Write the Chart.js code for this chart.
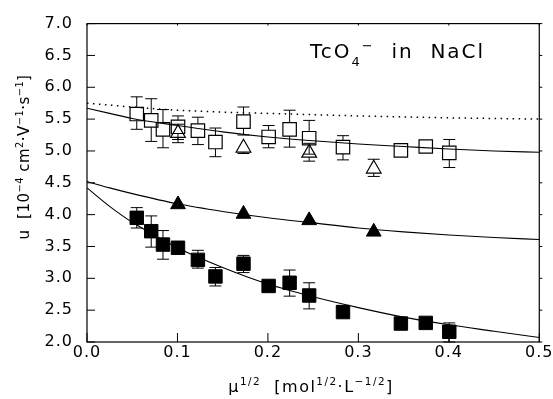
<!DOCTYPE html>
<html>
<head>
<meta charset="utf-8">
<script src="https://cdn.jsdelivr.net/npm/chart.js@4.4.0/dist/chart.umd.min.js"></script>
<style>
  html, body { margin: 0; padding: 0; background: #fff; }
</style>
</head>
<body>
<canvas id="myChart" width="553" height="399"></canvas>
<script>
// mu^1/2 of the measured points (squares)
var sqX = [0.055, 0.071, 0.084, 0.1006, 0.1226, 0.142, 0.173, 0.2008, 0.224, 0.2456, 0.283, 0.347, 0.3745, 0.4005];
// open squares
var openSqY = [5.58, 5.48, 5.34, 5.38, 5.32, 5.14, 5.46, 5.22, 5.34, 5.20, 5.06, 5.01, 5.07, 4.97];
var openSqLo = [5.34, 5.15, 5.05, 5.13, 5.10, 4.91, 5.25, 5.05, 5.06, 4.95, 4.86, null, null, 4.74];
var openSqHi = [5.85, 5.82, 5.65, 5.55, 5.53, 5.36, 5.69, 5.40, 5.64, 5.48, 5.24, null, null, 5.18];
// filled squares
var fillSqY = [3.95, 3.74, 3.53, 3.48, 3.29, 3.03, 3.23, 2.88, 2.93, 2.73, 2.47, 2.29, 2.30, 2.16];
var fillSqLo = [3.79, 3.49, 3.30, null, 3.16, 2.88, 3.09, null, 2.72, 2.52, null, null, null, 2.0];
var fillSqHi = [4.11, 3.98, 3.75, null, 3.44, 3.17, 3.36, null, 3.13, 2.93, null, null, null, 2.30];
// triangles
var triX = [0.1006, 0.173, 0.2456, 0.317];
var openTriY = [5.28, 5.05, 4.97, 4.72];
var openTriLo = [5.18, 4.96, 4.84, 4.60];
var openTriHi = [5.42, 5.17, 5.12, 4.87];
var fillTriY = [4.16, 4.01, 3.91, 3.73];
// fitted curves
var curveX = [0, 0.025, 0.05, 0.1, 0.15, 0.2, 0.25, 0.3, 0.35, 0.4, 0.45, 0.5];
var dottedY = [5.75, 5.72, 5.69, 5.64, 5.61, 5.59, 5.57, 5.55, 5.535, 5.52, 5.51, 5.50];
var upperY = [5.67, 5.59, 5.51, 5.40, 5.30, 5.22, 5.16, 5.11, 5.07, 5.03, 5.00, 4.98];
var middleY = [4.52, 4.42, 4.33, 4.17, 4.05, 3.95, 3.87, 3.79, 3.73, 3.68, 3.64, 3.61];
var lowerY = [4.42, 4.13, 3.88, 3.48, 3.17, 2.91, 2.71, 2.54, 2.39, 2.27, 2.17, 2.07];

function pts(xs, ys, lo, hi) {
    return xs.map(function (x, i) {
        return { x: x, y: ys[i], lo: lo ? lo[i] : null, hi: hi ? hi[i] : null };
    });
}

var FONT = 'DejaVu Sans';
Chart.defaults.font.family = FONT;
Chart.defaults.color = '#000';

// draw text with sub/superscripts; mode 1 = sup, -1 = sub
function richWidth(ctx, parts, size) {
    var w = 0;
    parts.forEach(function (p) {
        ctx.font = (p[1] ? size * 0.65 : size) + 'px "' + FONT + '"';
        w += ctx.measureText(p[0]).width;
    });
    return w;
}
function drawRich(ctx, parts, x, y, size) {
    var cx = x;
    parts.forEach(function (p) {
        var s = p[1] ? size * 0.65 : size;
        ctx.font = s + 'px "' + FONT + '"';
        var dy = p[1] === 1 ? -size * 0.42 : (p[1] === -1 ? size * 0.38 : 0);
        ctx.fillText(p[0], cx, y + dy);
        cx += ctx.measureText(p[0]).width;
    });
}

var yTitle = [['u  [10', 0], ['\u22124', 1], [' cm', 0], ['2', 1], ['\u00b7V', 0], ['\u22121', 1], ['\u00b7s', 0], ['\u22121', 1], [']', 0]];
var xTitle = [['\u03bc', 0], ['1/2', 1], ['  [mol', 0], ['1/2', 1], ['\u00b7L', 0], ['\u22121/2', 1], [']', 0]];
var label = [['TcO', 0], ['4', -1], ['\u2212', 1], ['  in  NaCl', 0]];

var decor = {
    id: 'decor',
    beforeDraw: function (chart) {
        chart.ctx.letterSpacing = '1px';
    },
    beforeDatasetsDraw: function (chart) {
        // error bars, drawn from the marker edge out to the caps
        var ctx = chart.ctx, xs = chart.scales.x, ys = chart.scales.y;
        ctx.save();
        ctx.strokeStyle = '#000';
        ctx.lineWidth = 1;
        chart.data.datasets.forEach(function (ds) {
            if (!ds.errEdge) return;
            ds.data.forEach(function (d) {
                if (d.lo == null) return;
                var px = xs.getPixelForValue(d.x), py = ys.getPixelForValue(d.y);
                var top = ys.getPixelForValue(d.hi), bot = ys.getPixelForValue(d.lo);
                ctx.beginPath();
                if (top < py - ds.errEdge[0]) {
                    ctx.moveTo(px, py - ds.errEdge[0]); ctx.lineTo(px, top);
                    ctx.moveTo(px - 6, top); ctx.lineTo(px + 6, top);
                }
                if (bot > py + ds.errEdge[1]) {
                    ctx.moveTo(px, py + ds.errEdge[1]); ctx.lineTo(px, bot);
                    ctx.moveTo(px - 6, bot); ctx.lineTo(px + 6, bot);
                }
                ctx.stroke();
            });
        });
        ctx.restore();
    },
    afterDraw: function (chart) {
        var ctx = chart.ctx, a = chart.chartArea, xs = chart.scales.x, ys = chart.scales.y;
        ctx.save();
        ctx.strokeStyle = '#000';
        ctx.lineWidth = 1.2;
        ctx.strokeRect(a.left, a.top, a.right - a.left, a.bottom - a.top);
        ctx.lineWidth = 1;
        ctx.beginPath();
        xs.ticks.forEach(function (t) {
            var px = xs.getPixelForValue(t.value);
            ctx.moveTo(px, a.bottom); ctx.lineTo(px, a.bottom - 9);
            ctx.moveTo(px, a.top); ctx.lineTo(px, a.top + 2);
        });
        ys.ticks.forEach(function (t) {
            var py = ys.getPixelForValue(t.value);
            ctx.moveTo(a.left, py); ctx.lineTo(a.left + 8, py);
            ctx.moveTo(a.right, py); ctx.lineTo(a.right + 3, py);
        });
        ctx.stroke();

        ctx.fillStyle = '#000';
        ctx.textBaseline = 'alphabetic';
        ctx.textAlign = 'left';

        // x title
        ctx.letterSpacing = '1.5px';
        var w = richWidth(ctx, xTitle, 16);
        drawRich(ctx, xTitle, 311 - w / 2, 392, 16);

        // y title
        ctx.letterSpacing = '0.5px';
        ctx.save();
        ctx.translate(29, 157);
        ctx.rotate(-Math.PI / 2);
        w = richWidth(ctx, yTitle, 15);
        drawRich(ctx, yTitle, -w / 2, 0, 15);
        ctx.restore();

        // label
        ctx.letterSpacing = '2px';
        drawRich(ctx, label, 310, 58, 20);
        ctx.restore();
    }
};

var ctx = document.getElementById('myChart');
var myChart = new Chart(ctx, {
    type: 'scatter',
    data: {
        datasets: [{
            label: 'open squares',
            data: pts(sqX, openSqY, openSqLo, openSqHi),
            pointStyle: 'rect',
            pointRadius: 9.5,
            pointBorderWidth: 1.2,
            pointBackgroundColor: 'rgba(0,0,0,0)',
            pointBorderColor: '#000',
            errEdge: [6.7, 6.7]
        }, {
            label: 'open triangles',
            data: pts(triX, openTriY, openTriLo, openTriHi),
            pointStyle: 'triangle',
            pointRadius: 8.5,
            pointBorderWidth: 1.2,
            pointBackgroundColor: 'rgba(0,0,0,0)',
            pointBorderColor: '#000',
            errEdge: [8.5, 4.3]
        }, {
            label: 'filled squares',
            data: pts(sqX, fillSqY, fillSqLo, fillSqHi),
            pointStyle: 'rect',
            pointRadius: 9.5,
            pointBorderWidth: 1,
            pointBackgroundColor: '#000',
            pointBorderColor: '#000',
            errEdge: [6.7, 6.7]
        }, {
            label: 'filled triangles',
            data: pts(triX, fillTriY),
            pointStyle: 'triangle',
            pointRadius: 8.5,
            pointBorderWidth: 1,
            pointBackgroundColor: '#000',
            pointBorderColor: '#000'
        }, {
            label: 'dotted',
            data: pts(curveX, dottedY),
            showLine: true,
            pointRadius: 0,
            borderColor: '#000',
            borderWidth: 1.5,
            borderDash: [1.5, 4.5],
            cubicInterpolationMode: 'monotone'
        }, {
            label: 'upper fit',
            data: pts(curveX, upperY),
            showLine: true,
            pointRadius: 0,
            borderColor: '#000',
            borderWidth: 1.1,
            cubicInterpolationMode: 'monotone'
        }, {
            label: 'middle fit',
            data: pts(curveX, middleY),
            showLine: true,
            pointRadius: 0,
            borderColor: '#000',
            borderWidth: 1.1,
            cubicInterpolationMode: 'monotone'
        }, {
            label: 'lower fit',
            data: pts(curveX, lowerY),
            showLine: true,
            pointRadius: 0,
            borderColor: '#000',
            borderWidth: 1.1,
            cubicInterpolationMode: 'monotone'
        }]
    },
    options: {
        responsive: false,
        animation: false,
        layout: { padding: { left: 0, top: 18, right: 12, bottom: 0 } },
        plugins: {
            legend: { display: false },
            tooltip: { enabled: false }
        },
        scales: {
            x: {
                type: 'linear',
                min: 0,
                max: 0.5,
                grid: { display: false, drawTicks: false },
                border: { display: false },
                ticks: {
                    stepSize: 0.1,
                    padding: 1,
                    maxRotation: 0,
                    font: { size: 16 },
                    callback: function (v) { return v.toFixed(1); }
                },
                afterFit: function (s) { s.height = 57; }
            },
            y: {
                min: 2,
                max: 7,
                grid: { display: false, drawTicks: false },
                border: { display: false },
                ticks: {
                    stepSize: 0.5,
                    padding: 14,
                    font: { size: 16 },
                    callback: function (v) { return v.toFixed(1); }
                },
                afterFit: function (s) { s.width = 87; }
            }
        }
    },
    plugins: [decor]
});
</script>
</body>
</html>
